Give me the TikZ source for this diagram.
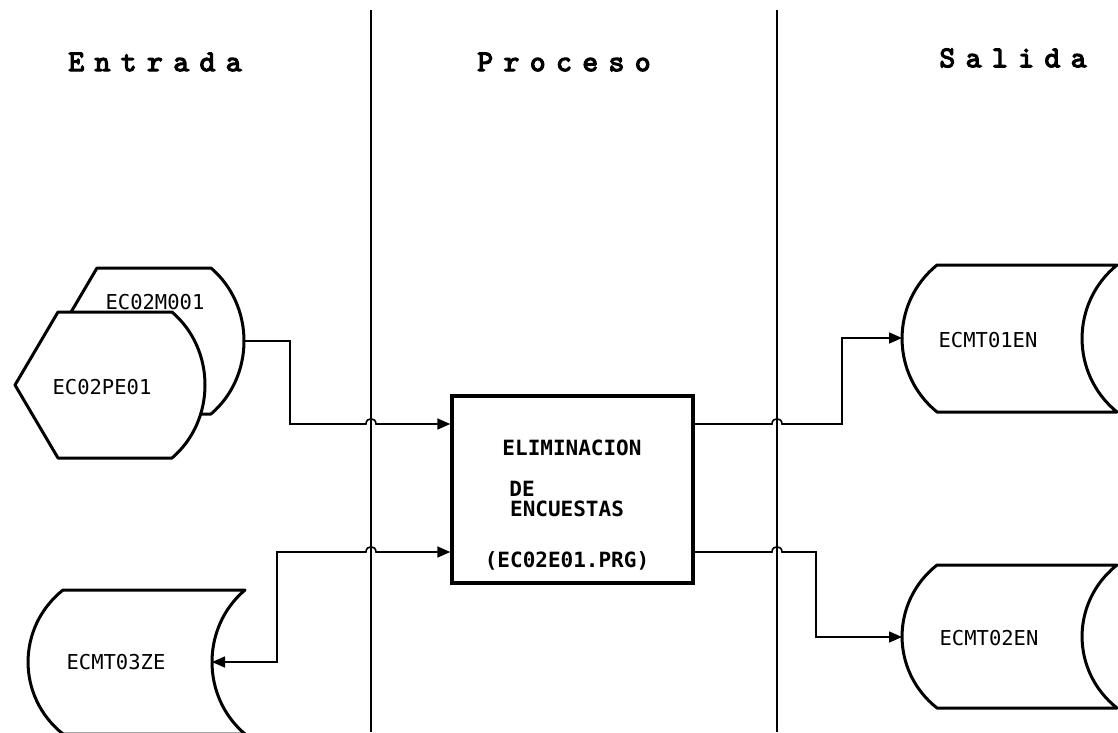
\documentclass[tikz,border=0pt]{standalone}
\usepackage{fontspec}
\usetikzlibrary{arrows.meta,calc}
\newfontfamily\lblfont{DejaVu Sans Mono}
\newfontfamily\hdrfont{lmmono10-regular}[Extension=.otf,LetterSpace=35,FakeBold=4]
\tikzset{
  shapeline/.style={draw=black,line width=3pt,fill=white,line join=round},
  conn/.style={draw=black,line width=1.6pt},
  tip/.style={-{Triangle[length=13pt,width=11pt]}},
  bitip/.style={{Triangle[length=13pt,width=11pt]}-{Triangle[length=13pt,width=11pt]}},
  sep/.style={draw=black,line width=1.1pt},
  hdr/.style={font=\hdrfont\fontsize{30}{32}\selectfont,inner sep=0pt},
  lbl/.style={font=\lblfont\fontsize{20.5}{22}\selectfont,inner sep=0pt},
  ptxt/.style={font=\lblfont\bfseries\fontsize{21}{23}\selectfont,inner sep=0pt},
  procbox/.style={draw=black,line width=3.4pt,minimum width=241pt,minimum height=187pt,inner sep=0pt}
}
\begin{document}
\begin{tikzpicture}[x=1pt,y=-1pt]
\useasboundingbox[fill=white] (0,0) rectangle (1118,732);
% separators
\draw[sep] (371,10) coordinate (s1top) -- (371,732) coordinate (s1bot);
\draw[sep] (777,10) coordinate (s2top) -- (777,732) coordinate (s2bot);
% headers
\node[hdr] (hEnt) at (155,62) {Entrada};
\node[hdr] (hPro) at (564,62) {Proceso};
\node[hdr] (hSal) at (1013,58) {Salida};
% input: back display shape
\path[shapeline] (97,268) -- (211,268) .. controls (255,305.7) and (255,376.3) .. (211,414) -- (97,414) -- (54,341) -- cycle;
\coordinate (bkout) at (244,341);
\node[lbl] (m001) at (155,302) {EC02M001};
% input: front display shape
\path[shapeline] (58,312) -- (172,312) .. controls (216,349.7) and (216,420.3) .. (172,458) -- (58,458) -- (15,385) -- cycle;
\node[lbl] (pe01) at (102,387) {EC02PE01};
% stored data ECMT03ZE
\path[shapeline] (63,590) -- (245,590) .. controls (201,627.2) and (201,696.8) .. (245,734) -- (63,734) .. controls (16.4,696.8) and (16.4,627.2) .. (63,590) -- cycle;
\coordinate (zein) at (212,662);
\node[lbl] (ze) at (116,662) {ECMT03ZE};
% outputs
\path[shapeline] (937,265) -- (1117,265) .. controls (1070.4,302.9) and (1070.4,374.1) .. (1117,412) -- (937,412) .. controls (890.4,374.1) and (890.4,302.9) .. (937,265) -- cycle;
\coordinate (en1in) at (902,338);
\node[lbl] (en1) at (988,340) {ECMT01EN};
\path[shapeline] (937,565) -- (1117,565) .. controls (1070.4,601.9) and (1070.4,671.1) .. (1117,708) -- (937,708) .. controls (890.4,671.1) and (890.4,601.9) .. (937,565) -- cycle;
\coordinate (en2in) at (902,637);
\node[lbl] (en2) at (989,638) {ECMT02EN};
% process box
\node[procbox] (proc) at (572.5,489.5) {};
\node[ptxt] (t1) at (572,448) {ELIMINACION};
\node[ptxt] (t2) at (522,489) {DE};
\node[ptxt] (t3) at (567,509) {ENCUESTAS};
\node[ptxt] (t4) at (567,561) {(EC02E01.PRG)};
% hop points
\coordinate (hA) at (371,424);
\coordinate (hB) at (371,552);
\coordinate (hC) at (777,424);
\coordinate (hD) at (777,552);
% connectors
\draw[conn,tip] (bkout) -- (290,341) -- (290,424) -- ($(hA)+(-5,0)$) .. controls ($(hA)+(-5,-7)$) and ($(hA)+(5,-7)$) .. ($(hA)+(5,0)$) -- (proc.west |- hA);
\draw[conn,bitip] (zein) -- (277,662) -- (277,552) -- ($(hB)+(-5,0)$) .. controls ($(hB)+(-5,-7)$) and ($(hB)+(5,-7)$) .. ($(hB)+(5,0)$) -- (proc.west |- hB);
\draw[conn,tip] (proc.east |- hC) -- ($(hC)+(-5,0)$) .. controls ($(hC)+(-5,-7)$) and ($(hC)+(5,-7)$) .. ($(hC)+(5,0)$) -- (842,424) -- (842,338) -- (en1in);
\draw[conn,tip] (proc.east |- hD) -- ($(hD)+(-5,0)$) .. controls ($(hD)+(-5,-7)$) and ($(hD)+(5,-7)$) .. ($(hD)+(5,0)$) -- (816,552) -- (816,637) -- (en2in);
\end{tikzpicture}
\end{document}
